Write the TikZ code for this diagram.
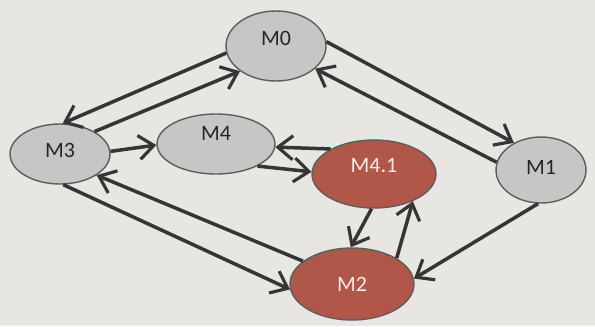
\documentclass[tikz,border=0pt]{standalone}
\usepackage{fontspec}
\setmainfont{Carlito}
\usetikzlibrary{shapes.geometric, arrows.meta}

\definecolor{paper}{HTML}{E8E6E2}
\definecolor{stategray}{HTML}{C6C6C4}
\definecolor{statered}{HTML}{B0574A}
\definecolor{edgegray}{HTML}{353535}

\tikzset{
	state/.style = {ellipse, draw = edgegray!80, line width = 0.8pt, inner sep = 0pt,
		font = \fontsize{12.5}{14}\selectfont, text = black!85},
	grey/.style = {state, fill = stategray},
	red/.style = {state, fill = statered, text = white!90!statered},
	raise/.style = {text depth = #1},
	arr/.style = {-{Straight Barb[length = 3mm, width = 4.8mm, line width = 1.8pt]},
		line width = 2pt, draw = edgegray},
}

\begin{document}
\begin{tikzpicture}[x = 0.02cm, y = -0.02cm]
	\fill[paper] (0, 0) rectangle (595, 326);
	
	\node[grey, raise = 0.32cm, minimum width = 2cm, minimum height = 1.4cm] (m0) at (276, 46){M0};
	\node[grey, raise = 0.16cm, minimum width = 2cm, minimum height = 1.2cm] (m3) at (60, 154){M3};
	\node[grey, raise = 0.44cm, minimum width = 2.36cm, minimum height = 1.2cm] (m4) at (216, 144){M4};
	\node[red, raise = 0.36cm, minimum width = 2.48cm, minimum height = 1.36cm] (m41) at (374, 174){M4.1};
	\node[grey, raise = 0.12cm, minimum width = 1.8cm, minimum height = 1.32cm] (m1) at (541, 170){M1};
	\node[red, minimum width = 2.48cm, minimum height = 1.44cm] (m2) at (352, 284){M2};
	
	\draw[arr] (m0.188) -- (m3.85);
	\draw[arr] (m3.33) -- (m0.215);
	\draw[arr] (m0.5) -- (m1.135);
	\draw[arr] (m1.170) -- (m0.330);
	\draw[arr] (m3.3) -- (m4.181);
	\draw[arr] (m41.150) -- (m4.357);
	\draw[arr] (m4.332) -- (m41.178);
	\draw[arr] (m41.266) -- (m2.92);
	\draw[arr] (m2.30) -- (m41.325);
	\draw[arr] (m3.276) -- (m2.185);
	\draw[arr] (m2.155) -- (m3.330);
	\draw[arr] (m1.265) -- (m2.5);
\end{tikzpicture}
\end{document}
